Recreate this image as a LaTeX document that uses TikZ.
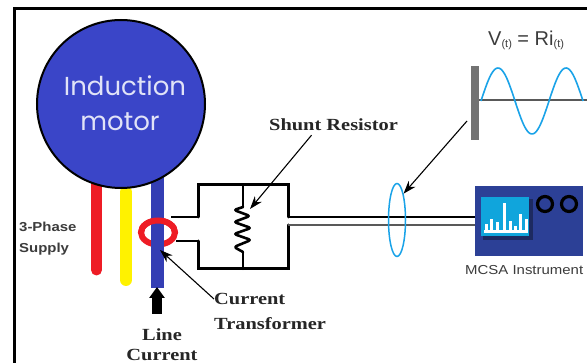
\documentclass[tikz,border=0pt]{standalone}
\usepackage{fontspec}
\setmainfont{Liberation Serif}
\setsansfont{Liberation Sans}
\newfontfamily\motorfont{Poppins}
\newfontfamily\wideser[FakeStretch=1.2]{Liberation Serif}
\newfontfamily\widesan[FakeStretch=1.15]{Liberation Sans}
\usetikzlibrary{arrows.meta,calc,shapes.geometric}
\definecolor{motorblue}{HTML}{3A45C8}
\definecolor{wirered}{HTML}{EE1C25}
\definecolor{wireyellow}{HTML}{FFF200}
\definecolor{wavecyan}{HTML}{1AA3E8}
\definecolor{instblue}{HTML}{2C4096}
\definecolor{screencyan}{HTML}{10A5DC}
\definecolor{labelgray}{HTML}{3C3C3C}
\tikzset{
  frameline/.style={line width=3pt,black},
  wire/.style={line width=#1,line cap=round},
  circuit/.style={line width=3pt,black,line cap=round,line join=miter},
  serlabel/.style={font=\wideser\bfseries\fontsize{17}{19}\selectfont,text=black!85,inner sep=0pt,anchor=west},
  sanslabel/.style={font=\widesan\fontsize{13}{15}\selectfont,text=labelgray,inner sep=0pt},
  phaselabel/.style={font=\widesan\bfseries\fontsize{13}{15}\selectfont,text=labelgray,inner sep=0pt,anchor=west},
  pointer/.style={line width=1.1pt,-{Stealth[length=13pt,width=9pt]}},
  knob/.style={circle,draw=black,line width=3.2pt,minimum size=15pt,inner sep=0pt,fill=instblue},
  bar/.style={line width=3pt,white},
}
\begin{document}
\begin{tikzpicture}[x=1pt,y=-1pt]
\useasboundingbox (0,0) rectangle (587,363);
\fill[white] (0,0) rectangle (587,363);
% frame
\draw[frameline] (14.5,363) -- (14.5,8.5) -- (587,8.5);
% wires
\draw[wirered,wire=11pt] (96.5,180) -- (96.5,270);
\draw[wireyellow,wire=12pt] (126,192) -- (126,280);
% ring, back half
\draw[wirered,line width=6pt] (158,232.5) ellipse [x radius=17,y radius=12];
\draw[motorblue!90!black,line width=12.5pt] (157.5,170) -- (157.5,288);
% motor
\node[circle,draw=black,line width=2pt,fill=motorblue,minimum size=168pt,inner sep=0pt] (motor) at (121,104) {};
\node[font=\motorfont\fontsize{26}{28}\selectfont,text=white!85!motorblue,inner sep=0pt] (lab1) at (125,86) {Induction};
\node[font=\motorfont\fontsize{26}{28}\selectfont,text=white!85!motorblue,inner sep=0pt] (lab2) at (120,122) {motor};
% ring, front half
\draw[wirered,line width=6pt] (141,232.5) arc [start angle=180,end angle=360,x radius=17,y radius=12];
% circuit
\coordinate (upIn) at (171,217);
\coordinate (loIn) at (176,241);
\coordinate (bTL) at (198,185);
\coordinate (bTR) at (288,185);
\coordinate (bBL) at (198,269);
\coordinate (bBR) at (288,269);
\coordinate (rTop) at (243,185);
\coordinate (rBot) at (243,269);
\draw[line width=1.8pt,black] (upIn) -- (198,217);
\draw[line width=1.8pt,black] (loIn) -- (198,241);
\draw[circuit] (198,217) -- (bTL) -- (bTR) -- (288,217);
\draw[circuit] (198,241) -- (bBL) -- (bBR) -- (288,225);
\draw[line width=2.2pt,black,line cap=round]
  (rTop) -- (243,207);
\draw[line width=2.6pt,black,line join=round,line cap=round,rounded corners=2.5pt]
  (243,207) -- (234,210) -- (250,216) -- (234,222) -- (251,228) -- (234,234) -- (251,240) -- (234,247) -- (243,252);
\draw[line width=2.2pt,black,line cap=round] (243,252) -- (rBot);
% lines to instrument
\node[fill=instblue,minimum width=108pt,minimum height=70pt,inner sep=0pt,anchor=north west] (inst) at (475,186) {};
\draw[line width=1.8pt,black] (288,217) -- (inst.west |- 288,217);
\draw[line width=1.8pt,black!65] (288,225) -- (inst.west |- 288,225);
% screen
\fill[instblue!65!black] (483,199) rectangle (533,240);
\node[fill=screencyan,minimum width=48pt,minimum height=39pt,inner sep=0pt,anchor=north west] (screen) at (481,197) {};
\draw[bar] (486,233) -- (486,224);
\draw[bar] (491,233) -- (491,219);
\draw[bar] (497,233) -- (497,222);
\draw[bar] (504,233) -- (504,203);
\draw[bar] (510,233) -- (510,221);
\draw[bar] (515,233) -- (515,226);
\draw[bar] (520,233) -- (520,214);
\draw[bar] (526,233) -- (526,219);
\draw[white,line width=3pt] (484,232) -- (528,232);
\node[knob] (k1) at (545,204) {};
\node[knob] (k2) at (569,204) {};
\node[sanslabel,anchor=west] (mcsa) at (465,270) {MCSA Instrument};
% probe ellipse
\node[ellipse,draw=wavecyan,line width=1.5pt,minimum width=17pt,minimum height=73pt,inner sep=0pt] (probe) at (397,220) {};
% waveform
\fill[black!55] (471,66) rectangle (479,140);
\coordinate (bar) at (471,121);
\draw[black!65,line width=1.5pt] (479,100) -- (587,100);
\draw[wavecyan,line width=1.6pt,smooth,samples=80,domain=481:583] plot (\x,{101-33*sin((\x-481)/34*180)});
\node[font=\sffamily\fontsize{20}{22}\selectfont,text=labelgray,inner sep=0pt,anchor=west] (eq) at (488,40) {V\raisebox{-2pt}{\fontsize{11}{12}\selectfont(t)} = Ri\raisebox{-2pt}{\fontsize{11}{12}\selectfont(t)}};
% labels
\node[serlabel] (shunt) at (269,125) {Shunt Resistor};
\node[serlabel] (ct1) at (214,299) {Current};
\node[serlabel] (ct2) at (214,324) {Transformer};
\node[serlabel,anchor=center] (lc1) at (162,335) {Line};
\node[serlabel,anchor=center] (lc2) at (162,355) {Current};
\node[phaselabel] (ph1) at (19,227) {3-Phase};
\node[phaselabel] (ph2) at (19,249) {Supply};
% pointers
\coordinate (tipR) at (250,209);
\coordinate (tipCT) at (160,250);
\draw[pointer] (shunt.south) ++(-22,4) -- (tipR);
\draw[pointer] (ct1.west) -- (tipCT);
\draw[pointer] (bar) ++(-4,0) -- (probe.north east);
% line current arrow
\coordinate (lcTail) at (157,314);
\coordinate (lcTip) at (157,287);
\draw[line width=10pt,-{Triangle[length=11pt,width=15pt]}] (lcTail) -- (lcTip);
\end{tikzpicture}
\end{document}
